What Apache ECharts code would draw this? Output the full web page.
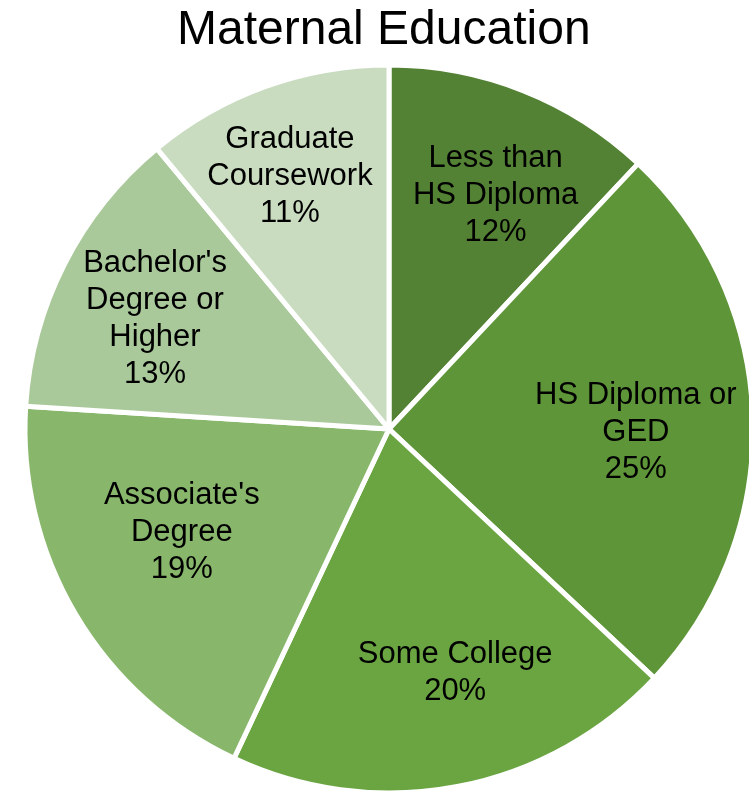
<!DOCTYPE html>
<html>
<head>
<meta charset="utf-8">
<title>Maternal Education</title>
<script src="https://cdn.jsdelivr.net/npm/echarts@6/dist/echarts.min.js"></script>
<style>
  html, body { margin: 0; padding: 0; background: #fff; }
  #chart { width: 749px; height: 793px; }
</style>
</head>
<body>
<div id="chart"></div>
<script>
// categories in clockwise order from 12 o'clock
const categories = [
  'Less than\nHS Diploma',
  'HS Diploma or\nGED',
  'Some College',
  "Associate's\nDegree",
  "Bachelor's\nDegree or\nHigher",
  'Graduate\nCoursework'
];
const shares = [12, 25, 20, 19, 13, 11];
const colors = ['#548235', '#5e9539', '#6aa542', '#88b76c', '#a9c99a', '#c9dcc0'];
// small nudges so labels sit where the original "best fit" put them
const labelNudge = [[12, 5], [-10, 12], [18, -8], [14, -27], [-5, 7], [-12, -11]];

const myChart = echarts.init(document.getElementById('chart'));

myChart.setOption({
  animation: false,
  title: {
    text: 'Maternal Education',
    left: 172,
    top: 2,
    textStyle: {
      fontFamily: 'Liberation Sans, Arial, sans-serif',
      fontSize: 48,
      fontWeight: 'normal',
      color: '#000'
    }
  },
  series: [
    {
      // slices
      type: 'pie',
      center: [389, 429],
      radius: [0, 364],
      startAngle: 90,
      clockwise: true,
      silent: true,
      itemStyle: { borderColor: '#fff', borderWidth: 5 },
      label: { show: false },
      labelLine: { show: false },
      data: categories.map((name, i) => ({
        name: name,
        value: shares[i],
        itemStyle: { color: colors[i] }
      }))
    },
    {
      // label ring: same angles, labels placed further out than the default middle
      type: 'pie',
      center: [389, 429],
      radius: [144, 364],
      startAngle: 90,
      clockwise: true,
      silent: true,
      avoidLabelOverlap: false,
      itemStyle: { color: 'rgba(0,0,0,0)', borderWidth: 0 },
      label: {
        show: true,
        position: 'inside',
        formatter: p => p.name + '\n' + p.value + '%',
        fontFamily: 'Liberation Sans, Arial, sans-serif',
        fontSize: 31,
        lineHeight: 37,
        color: '#000',
        align: 'center'
      },
      labelLayout: { hideOverlap: false },
      labelLine: { show: false },
      data: categories.map((name, i) => ({
        name: name,
        value: shares[i],
        label: { offset: labelNudge[i] }
      }))
    }
  ]
});
</script>
</body>
</html>
